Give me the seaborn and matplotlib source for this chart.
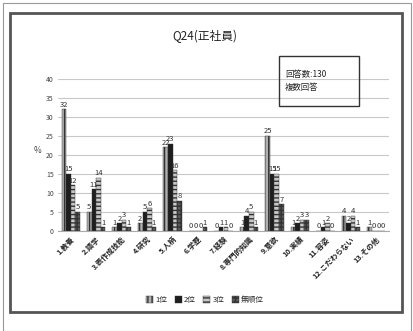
import numpy as np
import pandas as pd
import matplotlib
matplotlib.use("Agg")
import matplotlib.pyplot as plt
from matplotlib.patches import Rectangle
import seaborn as sns

categories = ["1.教養", "2.語学", "3.表作成技能", "4.研究", "5.人柄", "6.学歴", "7.経験",
              "8.専門的知識", "9.意欲", "10.実績", "11.容姿", "12.こだわらない", "13.その他"]
series_names = ["1位", "2位", "3位", "無順位"]
rank1 = [32, 5, 1, 2, 22, 0, 0, 1, 25, 1, 0, 4, 1]
rank2 = [15, 11, 2, 5, 23, 0, 1, 4, 15, 2, 1, 2, 0]
rank3 = [12, 14, 3, 6, 16, 0, 1, 5, 15, 3, 2, 4, 0]
norank = [5, 1, 1, 1, 8, 1, 0, 1, 7, 3, 0, 1, 0]
yticks = [0, 5, 10, 15, 20, 25, 30, 35, 40]

sns.set_theme(style="white")
plt.rcParams['font.family'] = ['Noto Sans CJK JP', 'DejaVu Sans']

rows = []
for name, vals in zip(series_names, [rank1, rank2, rank3, norank]):
    for c, v in zip(categories, vals):
        rows.append({"cat": c, "val": v, "series": name})
df = pd.DataFrame(rows)

fig = plt.figure(figsize=(4.14, 3.31), dpi=100)
fig.patch.set_facecolor("white")
ax = fig.add_axes([58/414, 1-231/331, (389-58)/414, (231-79)/331])

colors = ["#b0b0b0", "#1e1e1e", "#c8c8c8", "#5a5a5a"]
hatches = ["||||", "", "----", "++++"]
sns.barplot(data=df, x="cat", y="val", hue="series", palette=colors, ax=ax,
            width=0.72, saturation=1, legend=True, errorbar=None)

for cont, h in zip(ax.containers, hatches):
    for p in cont:
        p.set_hatch(h)
        p.set_edgecolor("#333333")
        p.set_linewidth(0.3)
    ax.bar_label(cont, labels=[f"{int(v)}" for v in cont.datavalues], fontsize=5.5,
                 padding=0.5, color="#333333")

ax.set_ylim(0, 40)
ax.set_yticks(yticks)
ax.set_yticklabels([str(t) for t in yticks], fontsize=5, color="#444444")
ax.yaxis.grid(True, color="#c8c8c8", linewidth=0.8)
ax.set_axisbelow(True)
ax.set_xlabel("")
ax.set_ylabel("%", fontsize=6, rotation=0, color="#444444", labelpad=6)
ax.set_xticks(range(len(categories)))
ax.set_xticklabels(categories, rotation=45, ha="right", rotation_mode="anchor",
                   fontsize=5.3, fontweight="bold", color="#222222")
ax.tick_params(axis="both", length=0, pad=3)
for s in ["top", "right", "left"]:
    ax.spines[s].set_visible(False)
ax.spines["bottom"].set_color("#aaaaaa")
ax.spines["bottom"].set_linewidth(0.8)

for hnd in ax.get_legend_handles_labels()[0]:
    pass
leg = ax.legend(loc="center", bbox_to_anchor=(205/414, 1-300/331),
                bbox_transform=fig.transFigure, ncol=4, frameon=False,
                fontsize=5.5, handlelength=0.9, handleheight=0.9,
                columnspacing=1.0, handletextpad=0.3)
for patch, h in zip(leg.get_patches(), hatches):
    patch.set_hatch(h)
    patch.set_edgecolor("#333333")
    patch.set_linewidth(0.3)

fig.text(205/414, 1-36/331, "Q24(正社員)", ha="center", va="center",
         fontsize=8.5, color="#222222")
fig.text(285/414, 1-81/331, "回答数:130\n複数回答", ha="left", va="center",
         fontsize=6, color="#222222", linespacing=1.6)
fig.patches.append(Rectangle((279/414, 1-106/331), 80/414, 50/331,
                             transform=fig.transFigure, fill=False,
                             edgecolor="#333333", linewidth=1.0))
fig.patches.append(Rectangle((10/414, 1-312/331), 392/414, 299/331,
                             transform=fig.transFigure, fill=False,
                             edgecolor="#555555", linewidth=2.0))
fig.patches.append(Rectangle((3/414, 1-331/331), 408/414, 328/331,
                             transform=fig.transFigure, fill=False,
                             edgecolor="#999999", linewidth=0.8))

fig.savefig("out.png", dpi=100)
